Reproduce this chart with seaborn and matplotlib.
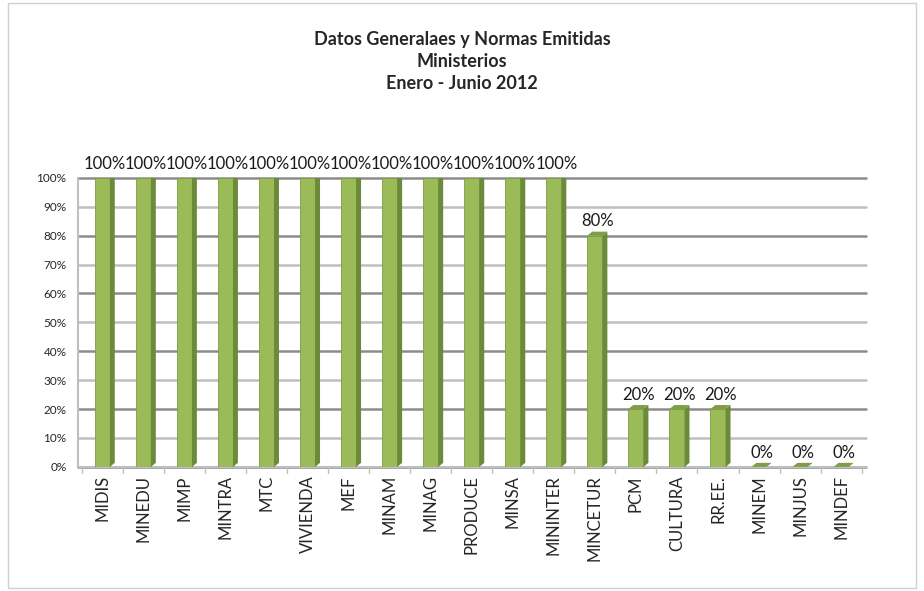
import matplotlib
matplotlib.use("Agg")
import matplotlib.pyplot as plt
import seaborn as sns
import pandas as pd
from matplotlib.patches import Polygon, Rectangle
from matplotlib.ticker import PercentFormatter

# chart data
ministerios = ["MIDIS", "MINEDU", "MIMP", "MINTRA", "MTC", "VIVIENDA", "MEF", "MINAM",
               "MINAG", "PRODUCE", "MINSA", "MININTER", "MINCETUR", "PCM", "CULTURA",
               "RR.EE.", "MINEM", "MINJUS", "MINDEF"]
porcentaje = [1.0, 1.0, 1.0, 1.0, 1.0, 1.0, 1.0, 1.0, 1.0, 1.0, 1.0, 1.0, 0.8, 0.2, 0.2,
              0.2, 0.0, 0.0, 0.0]
titulo = "Datos Generalaes y Normas Emitidas\nMinisterios\nEnero - Junio 2012"

df = pd.DataFrame({"ministerio": ministerios, "valor": porcentaje})

sns.set_style("white")
plt.rcParams["font.family"] = ["Lato", "DejaVu Sans"]

fig = plt.figure(figsize=(9.24, 5.91), dpi=100)
ax = fig.add_axes([0.084, 0.21, 0.853, 0.489])

sns.barplot(data=df, x="ministerio", y="valor", color="#9BBB59", saturation=1,
            width=0.37, edgecolor="#7F9C44", linewidth=0.6, zorder=3, ax=ax)

# fake 3D: darker side face and top derived from each bar
dx, dy = 0.12, 0.014
for p in list(ax.patches):
    x0, w, h = p.get_x(), p.get_width(), p.get_height()
    x1 = x0 + w
    side = Polygon([[x1, 0], [x1 + dx, dy], [x1 + dx, h + dy], [x1, h]],
                   closed=True, facecolor="#6B8A3A", edgecolor="none", zorder=3)
    top = Polygon([[x0, h], [x0 + dx, h + dy], [x1 + dx, h + dy], [x1, h]],
                  closed=True, facecolor="#7E9E48", edgecolor="none", zorder=3)
    ax.add_patch(side)
    ax.add_patch(top)

for p, v in zip(ax.patches[:len(porcentaje)], porcentaje):
    ax.text(p.get_x() + p.get_width() / 2 + 0.06, p.get_height() + 0.022,
            f"{v:.0%}", ha="center", va="bottom", fontsize=12, color="#1a1a1a")

ax.set_ylim(0, 1.0)
ax.set_xlim(-0.6, len(ministerios) - 0.4)
ax.set_yticks([i / 10 for i in range(11)])
ax.yaxis.set_major_formatter(PercentFormatter(1.0, decimals=0))
ax.tick_params(axis="y", labelsize=8.5, length=0, pad=8)
ax.tick_params(axis="x", labelsize=12, rotation=90, length=0, pad=6)
ax.set_xlabel("")
ax.set_ylabel("")

for i, yv in enumerate(ax.get_yticks()):
    ax.axhline(yv, color="#8C8C8C" if i % 2 == 0 else "#BFBFBF", lw=1.8, zorder=1,
               clip_on=False)

for s in ["top", "right"]:
    ax.spines[s].set_visible(False)
ax.spines["left"].set_color("#BFBFBF")
ax.spines["left"].set_linewidth(1.5)
ax.spines["bottom"].set_color("#BFBFBF")
ax.spines["bottom"].set_linewidth(1.5)

# category separators under the axis
for i in range(len(ministerios) + 1):
    ax.plot([i - 0.5, i - 0.5], [0, -0.02], color="#BFBFBF", lw=1, clip_on=False)

fig.text(0.5, 0.947, titulo, ha="center", va="top", fontsize=13, fontweight="bold",
         linespacing=1.35)

fig.patches.append(Rectangle((0.009, 0.005), 0.982, 0.99, transform=fig.transFigure,
                             fill=False, edgecolor="#D0D0D0", lw=1))

fig.savefig("out.png", dpi=100)
